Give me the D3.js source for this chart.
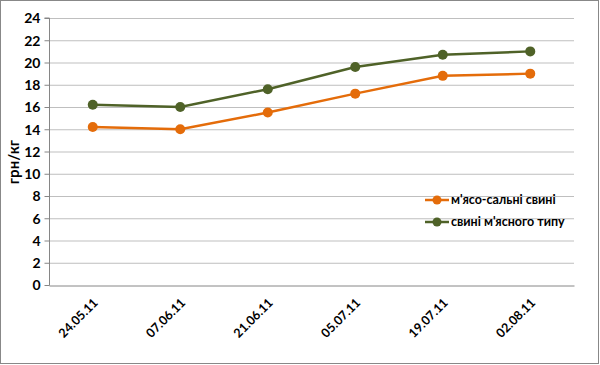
<!DOCTYPE html>
<html><head><meta charset="utf-8">
<script src="https://cdn.jsdelivr.net/npm/d3@7"></script>
<style>body{margin:0;background:#fff}svg{display:block}text{font-family:Lato,"Open Sans",sans-serif;font-weight:bold;fill:#000}</style>
</head><body>
<script>
const categories = ["24.05.11","07.06.11","21.06.11","05.07.11","19.07.11","02.08.11"];
const meatFat = [14.2, 14.0, 15.5, 17.2, 18.8, 19.0];
const meatType = [16.2, 16.0, 17.6, 19.6, 20.7, 21.0];
const yTicks = [0,2,4,6,8,10,12,14,16,18,20,22,24];
const seriesNames = ["м'ясо-сальні свині","свині м'ясного типу"];
const colors = ["#E46C0A","#4F6228"];
const yTitle = "грн/кг";

const W=600,H=365;
const svg=d3.select("body").append("svg").attr("width",W).attr("height",H);
svg.append("rect").attr("x",0.5).attr("y",0.5).attr("width",W-2).attr("height",H-2).attr("fill","#fff").attr("stroke","#888");

const pL=49,pR=574,pT=18,pB=285;
const x=d3.scaleBand().domain(categories).range([pL,pR]);
const y=d3.scaleLinear().domain([0,24]).range([pB,pT]);

// gridlines
svg.append("g").selectAll("line").data(yTicks.filter(d=>d>0)).join("line")
 .attr("x1",pL).attr("x2",pR).attr("y1",d=>y(d)+0.5).attr("y2",d=>y(d)+0.5)
 .attr("stroke","#bfbfbf").attr("stroke-width",1);

// y axis
const ya=svg.append("g").attr("transform",`translate(${pL+0.5},0)`)
 .call(d3.axisLeft(y).tickValues(yTicks).tickSize(5).tickPadding(4));
ya.select(".domain").attr("stroke","#868686").attr("d",`M-5,${pT}H0V${pB+0.5}`);
ya.selectAll(".tick line").attr("stroke","#868686");
ya.selectAll("text").style("font-size","14px").attr("dy","0.35em");

// x axis
const xa=svg.append("g").attr("transform",`translate(0,${pB+0.5})`)
 .call(d3.axisBottom(x).tickSize(0).tickPadding(0));
xa.select(".domain").attr("stroke","#868686");
xa.selectAll("text").style("font-size","12.5px")
 .attr("text-anchor","end").attr("dy",0).attr("y",0).attr("transform","translate(6,18) rotate(-45)");

// y title
svg.append("text").attr("transform",`translate(19,162) rotate(-90)`).attr("text-anchor","middle")
 .style("font-size","15px").text(yTitle);

const data=[meatFat,meatType];
const line=d3.line().x((d,i)=>x(categories[i])+x.bandwidth()/2).y(d=>y(d));
data.forEach((s,k)=>{
 svg.append("path").datum(s).attr("d",line).attr("fill","none").attr("stroke",colors[k]).attr("stroke-width",2.5);
 svg.append("g").selectAll("circle").data(s).join("circle")
  .attr("cx",(d,i)=>x(categories[i])+x.bandwidth()/2).attr("cy",d=>y(d)).attr("r",5).attr("fill",colors[k]);
});

// legend
const lg=svg.append("g");
seriesNames.forEach((n,k)=>{
 const ly=200+k*22;
 lg.append("line").attr("x1",425).attr("x2",449).attr("y1",ly).attr("y2",ly).attr("stroke",colors[k]).attr("stroke-width",2.5);
 lg.append("circle").attr("cx",437).attr("cy",ly).attr("r",4.5).attr("fill",colors[k]);
 lg.append("text").attr("x",451).attr("y",ly).attr("dy","0.35em").style("font-size","12.5px").text(n);
});
</script>
</body></html>
